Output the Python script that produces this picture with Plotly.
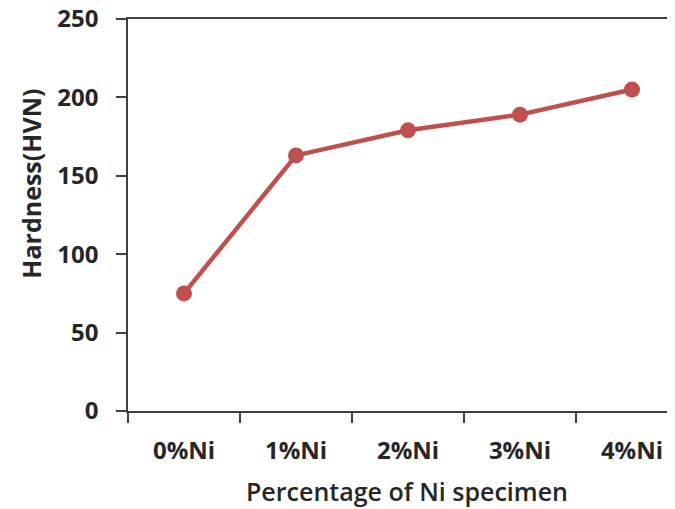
import plotly.graph_objects as go

categories = ["0%Ni", "1%Ni", "2%Ni", "3%Ni", "4%Ni"]
hardness = [75, 163, 179, 189, 205]
y_ticks = [0, 50, 100, 150, 200, 250]

x_title = "Percentage of Ni specimen"
y_title = "Hardness(HVN)"

line_color = "#C0504D"
axis_color = "#404040"
font_family = "Open Sans"

fig = go.Figure()
fig.add_trace(go.Scatter(
    x=categories,
    y=hardness,
    mode="lines+markers",
    line=dict(color=line_color, width=4.5),
    marker=dict(color=line_color, size=16),
    showlegend=False,
    hoverinfo="x+y",
))

fig.update_layout(
    width=667,
    height=501,
    margin=dict(l=120, r=0, t=11, b=98),
    paper_bgcolor="white",
    plot_bgcolor="white",
    font=dict(family=font_family, color="#262626"),
    xaxis=dict(
        type="category",
        range=[-0.5, 4.384],
        automargin=False,
        showline=True,
        linecolor=axis_color,
        linewidth=1.5,
        mirror=True,
        ticks="outside",
        tickson="boundaries",
        ticklen=10,
        tickwidth=1.5,
        tickcolor=axis_color,
        showgrid=False,
        zeroline=False,
        tickfont=dict(family=font_family, size=24, weight="bold", color="#262626"),
        ticklabelstandoff=17,
    ),
    yaxis=dict(
        range=[0, 250],
        tickvals=y_ticks,
        automargin=False,
        showline=True,
        linecolor=axis_color,
        linewidth=1.5,
        ticks="outside",
        ticklen=10,
        tickwidth=1.5,
        tickcolor=axis_color,
        showgrid=False,
        zeroline=False,
        tickfont=dict(family=font_family, size=24, weight="bold", color="#262626"),
        ticklabelstandoff=13,
        ticklabeloverflow="allow",
    ),
    annotations=[
        dict(
            text=x_title,
            xref="paper", yref="paper",
            x=0.51, y=-0.205,
            xanchor="center", yanchor="middle",
            showarrow=False,
            font=dict(family=font_family, size=25, weight=600, color="#262626"),
        ),
        dict(
            text=y_title,
            xref="paper", yref="paper",
            x=-0.178, y=0.579,
            xanchor="center", yanchor="middle",
            textangle=-90,
            showarrow=False,
            font=dict(family=font_family, size=25, weight="bold", color="#262626"),
        ),
    ],
)

fig.write_html("out.html")
